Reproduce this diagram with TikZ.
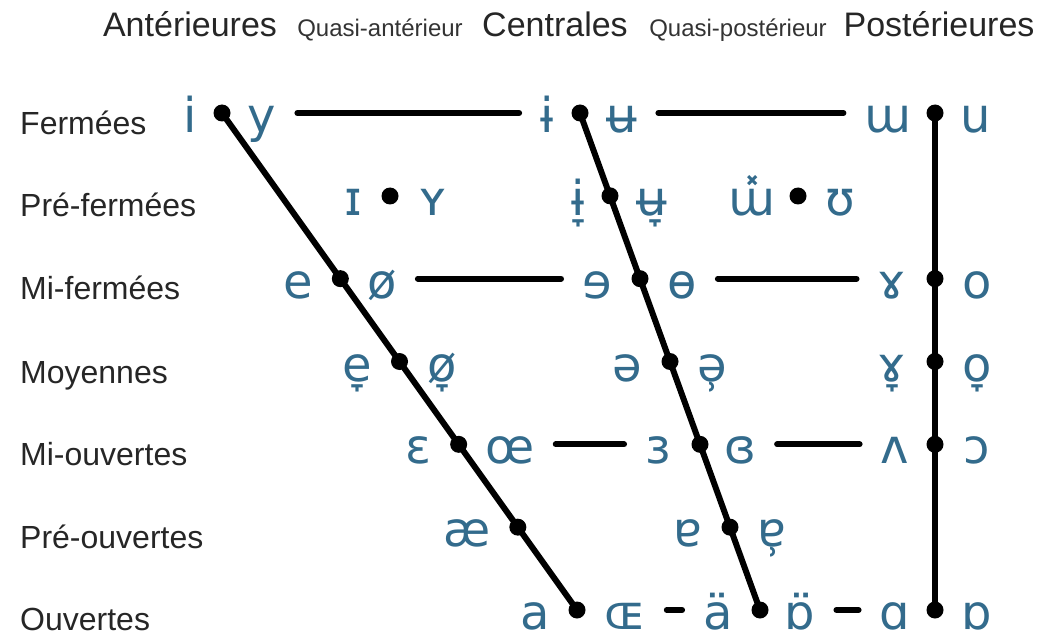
\documentclass[tikz,border=0pt]{standalone}
\usepackage{fontspec}
\setmainfont{Liberation Sans}
\newfontfamily\ipaff{DejaVu Sans}
\usetikzlibrary{calc}
\definecolor{ipablue}{HTML}{336B8C}
\newcommand\ipafont{\ipaff\fontsize{48}{48}\selectfont}
\newcommand\labfont{\fontsize{32}{32}\selectfont}
\newcommand\headfont{\fontsize{34}{34}\selectfont}
\newcommand\subheadfont{\fontsize{24}{24}\selectfont}
\begin{document}
\begin{tikzpicture}[x=1pt,y=-1pt,
  ipa/.style={font=\ipafont, text=ipablue, anchor=base, inner sep=0pt},
  lab/.style={font=\labfont, text=black!85, anchor=base west, inner sep=0pt},
  head/.style={font=\headfont, text=black!85, anchor=base, inner sep=0pt},
  subhead/.style={font=\subheadfont, text=black!80, anchor=base, inner sep=0pt},
  bar/.style={line width=6pt, line cap=round},
  hbar/.style={bar, shorten <=21pt, shorten >=21pt},
  pt/.style={circle, fill=black, minimum size=17pt, inner sep=0pt}]
\useasboundingbox (0,0) rectangle (1052,639);
% column headers
\node[head] (hA) at (190,37) {Antérieures};
\node[subhead] (hQA) at (380,37) {Quasi-antérieur};
\node[head] (hC) at (555,37) {Centrales};
\node[subhead] (hQP) at (738,37) {Quasi-postérieur};
\node[head] (hP) at (939,37) {Postérieures};
% row labels
\node[lab] (l0) at (20,135) {Fermées};
\node[lab] (l1) at (20,217) {Pré-fermées};
\node[lab] (l2) at (20,299) {Mi-fermées};
\node[lab] (l3) at (20,383) {Moyennes};
\node[lab] (l4) at (20,465) {Mi-ouvertes};
\node[lab] (l5) at (20,548) {Pré-ouvertes};
\node[lab] (l6) at (20,630) {Ouvertes};
% dots
\node[pt] (f0) at (222,113) {};
\node[pt] (f6) at (577,610) {};
\node[pt] (c0) at (580,113) {};
\node[pt] (c6) at (760,610) {};
\node[pt] (b0) at (935,113) {};
\node[pt] (b6) at (935,610) {};
\foreach \k in {2,...,5} \node[pt] (f\k) at ($(f0.center)!\k/6!(f6.center)$) {};
\foreach \k in {1,...,5} \node[pt] (c\k) at ($(c0.center)!\k/6!(c6.center)$) {};
\foreach \k in {2,3,4} \node[pt] (b\k) at ($(b0.center)!\k/6!(b6.center)$) {};
\node[pt] (p1) at (390,196) {};
\node[pt] (p2) at (798,196) {};
\draw[bar] (f0.center) -- (f6.center);
\draw[bar] (c0.center) -- (c6.center);
\draw[bar] (b0.center) -- (b6.center);
% row 0
\node[ipa] (v-i) at (190,133) {i};
\node[ipa] (v-y) at (262,133) {y};
\node[ipa] (v-ib) at (547,133) {ɨ};
\node[ipa] (v-ub) at (622,133) {ʉ};
\node[ipa] (v-uu) at (888,133) {ɯ};
\node[ipa] (v-u) at (976,133) {u};
% row 1
\node[ipa] (v-I) at (353,216) {ɪ};
\node[ipa] (v-Y) at (433,216) {ʏ};
\node[ipa] (v-ibl) at (578,216) {ɨ̞};
\node[ipa] (v-ubl) at (652,216) {ʉ̞};
\node[ipa] (v-uux) at (752,216) {ɯ̽};
\node[ipa] (v-U) at (840,216) {ʊ};
% row 2
\node[ipa] (v-e) at (298,298) {e};
\node[ipa] (v-o/) at (382,298) {ø};
\node[ipa] (v-er) at (597,298) {ɘ};
\node[ipa] (v-ob) at (682,298) {ɵ};
\node[ipa] (v-ram) at (892,298) {ɤ};
\node[ipa] (v-o) at (977,298) {o};
% row 3
\node[ipa] (v-el) at (357,381) {e̞};
\node[ipa] (v-o/l) at (442,381) {ø̞};
\node[ipa] (v-schwa) at (627,381) {ə};
\node[ipa] (v-schwar) at (712,381) {ə̹};
\node[ipa] (v-raml) at (892,381) {ɤ̞};
\node[ipa] (v-ol) at (977,381) {o̞};
% row 4
\node[ipa] (v-E) at (418,463) {ɛ};
\node[ipa] (v-oe) at (510,463) {œ};
\node[ipa] (v-3) at (658,463) {ɜ};
\node[ipa] (v-3r) at (740,463) {ɞ};
\node[ipa] (v-V) at (895,463) {ʌ};
\node[ipa] (v-O) at (977,463) {ɔ};
% row 5
\node[ipa] (v-ae) at (467,546) {æ};
\node[ipa] (v-6) at (688,546) {ɐ};
\node[ipa] (v-6r) at (772,546) {ɐ̹};
% row 6
\node[ipa] (v-a) at (535,629) {a};
\node[ipa] (v-OE) at (625,629) {ɶ};
\node[ipa] (v-ad) at (718,629) {ä};
\node[ipa] (v-Qd) at (800,629) {ɒ̈};
\node[ipa] (v-A) at (895,629) {ɑ};
\node[ipa] (v-Q) at (977,629) {ɒ};
% horizontal connectors
\draw[hbar] (v-y.east |- f0) -- (v-ib.west |- f0);
\draw[hbar] (v-ub.east |- c0) -- (v-uu.west |- c0);
\draw[hbar] (v-o/.east |- f2) -- (v-er.west |- f2);
\draw[hbar] (v-ob.east |- c2) -- (v-ram.west |- c2);
\draw[hbar] (v-oe.east |- f4) -- (v-3.west |- f4);
\draw[hbar] (v-3r.east |- c4) -- (v-V.west |- c4);
\draw[hbar] (v-OE.east |- f6) -- (v-ad.west |- f6);
\draw[hbar] (v-Qd.east |- c6) -- (v-A.west |- c6);
\end{tikzpicture}
\end{document}
